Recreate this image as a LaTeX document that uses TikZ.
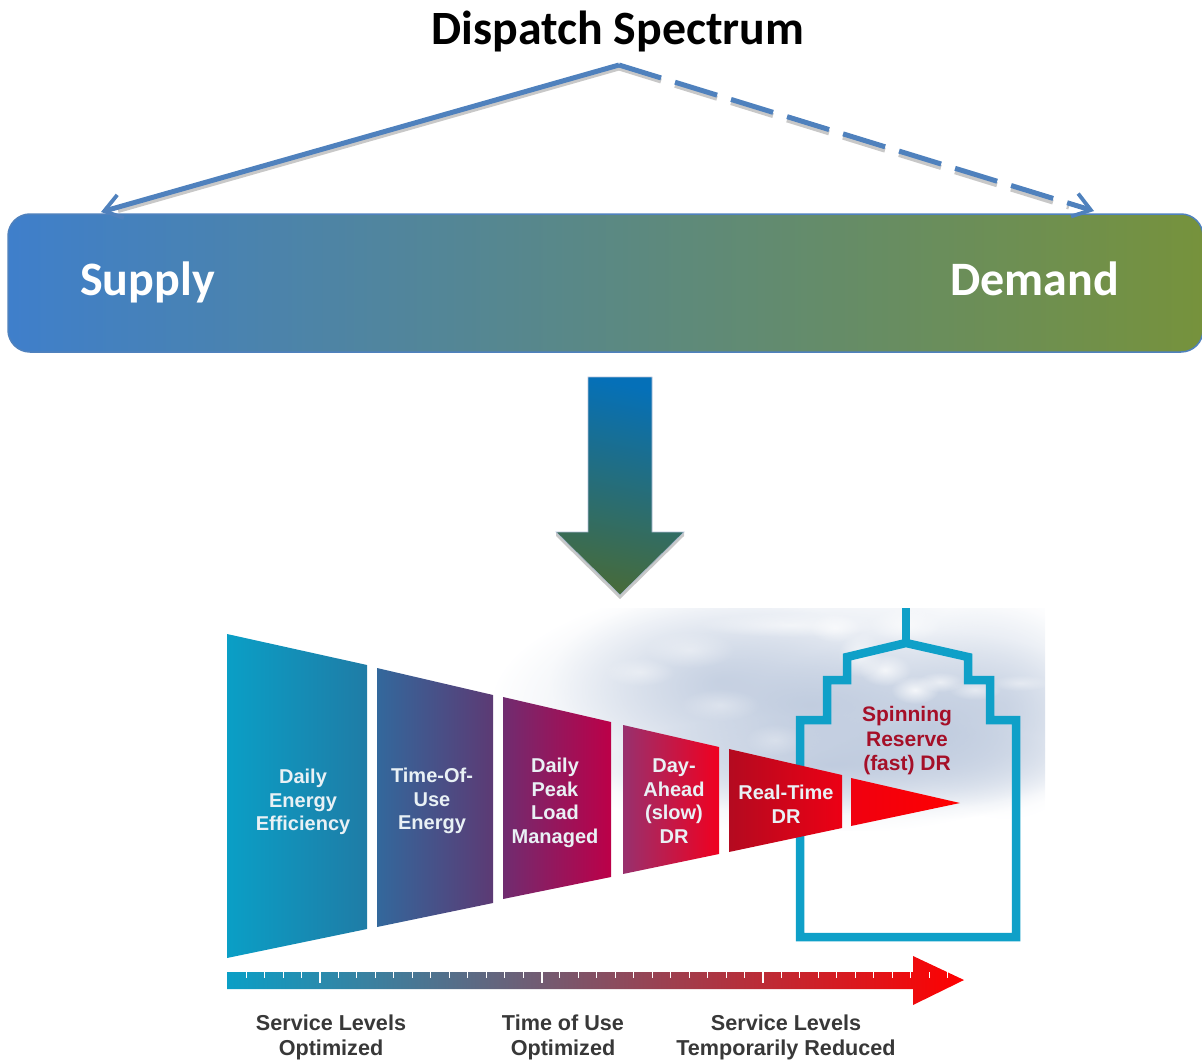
\documentclass[tikz,border=0pt]{standalone}
\usepackage{fontspec}
\setmainfont{Liberation Sans}
\newfontfamily\calfont{Carlito}
\usetikzlibrary{arrows.meta,fadings,shapes.geometric}
\definecolor{linkblue}{HTML}{4F81BD}
\definecolor{shadowgray}{HTML}{C8C8C8}
\definecolor{cloudc}{HTML}{AFBED6}
\definecolor{housec}{HTML}{0FA0C8}
\definecolor{labelw}{HTML}{E9F1F5}
\definecolor{redtxt}{HTML}{A50F28}
\definecolor{wa}{HTML}{0A9FC6}\definecolor{wb}{HTML}{1F7CA6}
\definecolor{wc}{HTML}{33689C}\definecolor{wd}{HTML}{5C3A74}
\definecolor{we}{HTML}{702C70}\definecolor{wf}{HTML}{BC0048}
\definecolor{wg}{HTML}{98306E}\definecolor{wh}{HTML}{F00020}
\definecolor{wi}{HTML}{B40A20}\definecolor{wj}{HTML}{EC0014}
\definecolor{wk}{HTML}{F00010}\definecolor{wl}{HTML}{FF0000}
\definecolor{barl}{HTML}{3F7FCB}\definecolor{barr}{HTML}{76923C}
\definecolor{downt}{HTML}{0570B8}\definecolor{downb}{HTML}{466B3C}
\definecolor{axm}{HTML}{7A4A6E}
\tikzfading[name=softc, inner color=transparent!0, outer color=transparent!100]
\tikzset{
  x=1pt,y=-1pt,
  headtxt/.style={font=\calfont\bfseries\fontsize{47.8}{54}\selectfont,text=black,inner sep=0pt,anchor=base},
  bartxt/.style={font=\calfont\bfseries\fontsize{48}{54}\selectfont,text=white,inner sep=0pt,anchor=base},
  wedgetxt/.style={font=\bfseries\fontsize{20}{23.7}\selectfont,text=labelw,align=center,inner sep=0pt},
  redlabel/.style={wedgetxt,font=\bfseries\fontsize{21}{24.5}\selectfont,text=redtxt},
  axistxt/.style={font=\bfseries\fontsize{21.6}{25}\selectfont,text=black!78,align=center,inner sep=0pt},
  link/.style={draw=linkblue,line width=5pt,-{Straight Barb[length=17pt,width=24pt,line width=3.8pt]}},
  linkshadow/.style={draw=shadowgray,line width=5pt},
  dashpat/.style={dash pattern=on 44pt off 14.6pt},
  puff/.style={fill=cloudc,path fading=softc},
  whitepuff/.style={fill=white,path fading=softc},
  wedge/.style={shading angle=90},
  housepen/.style={draw=housec,line width=8.5pt,line join=miter},
  spectrum/.style={shade,left color=barl,right color=barr,draw=linkblue,line width=1.5pt,rounded corners=22pt,minimum width=1195pt,minimum height=138pt,inner sep=0pt},
}
\begin{document}
\begin{tikzpicture}
\useasboundingbox (0,0) rectangle (1202,1062);
% clouds
\begin{scope}
\clip (470,608) rectangle (1045,830);
\fill[puff,opacity=.65] (810,705) ellipse [x radius=320,y radius=130];
\fill[puff,opacity=.6] (930,725) ellipse [x radius=190,y radius=95];
\fill[puff,opacity=.5] (720,680) ellipse [x radius=170,y radius=85];
\fill[puff,opacity=.6] (830,765) ellipse [x radius=250,y radius=50];
\fill[puff,opacity=.35] (1005,705) ellipse [x radius=100,y radius=115];
\foreach \cx/\cy/\rx/\ry/\o in {
  790/625/90/12/.55, 835/628/25/14/.6, 860/655/22/22/.7, 885/670/26/16/.75, 915/690/24/14/.8,
  940/682/24/10/.6, 975/690/26/10/.5, 1020/683/30/8/.4, 690/650/45/18/.4, 640/672/35/14/.4,
  720/705/40/16/.35, 775/740/30/16/.3, 905/625/35/16/.6}{
  \fill[whitepuff,opacity=\o] (\cx,\cy) ellipse [x radius=\rx,y radius=\ry];
}
\end{scope}
% house
\coordinate (stemtop) at (906,608);
\coordinate (apex2) at (906,643);
\draw[housepen] (apex2) -- (stemtop);
\draw[housepen] (apex2) -- (968,657) -- (968,680) -- (990,680) -- (990,720) -- (1016,720) -- (1016,937) -- (800,937) -- (800,720) -- (827,720) -- (827,680) -- (847,680) -- (847,657) -- cycle;
% wedges
\shade[wedge,left color=wa,right color=wb] (227,634) -- (367,665) -- (367,929) -- (227,958) -- cycle;
\shade[wedge,left color=wc,right color=wd] (377,668) -- (493,695) -- (493,903) -- (377,927) -- cycle;
\shade[wedge,left color=we,right color=wf] (503,697) -- (611,722) -- (611,877) -- (503,899) -- cycle;
\shade[wedge,left color=wg,right color=wh] (623,725) -- (719,747) -- (719,854) -- (623,874) -- cycle;
\shade[wedge,left color=wi,right color=wj] (729,749) -- (842,775) -- (842,828) -- (729,852) -- cycle;
\shade[wedge,left color=wk,right color=wl] (851,778) -- (960,803) -- (851,826) -- cycle;
% wedge labels
\node[wedgetxt] (w1) at (303,802) {Daily\\Energy\\Efficiency};
\node[wedgetxt] (w2) at (432,801) {Time-Of-\\Use\\Energy};
\node[wedgetxt] (w3) at (555,803) {Daily\\Peak\\Load\\Managed};
\node[wedgetxt] (w4) at (674,801) {Day-\\Ahead\\(slow)\\DR};
\node[wedgetxt] (w5) at (786,804) {Real-Time\\DR};
\node[redlabel] (w6) at (907,741) {Spinning\\Reserve\\(fast) DR};
% axis
\shade[left color=wa,middle color=axm,right color=wl] (227,972) -- (913,972) -- (913,956) -- (964,980) -- (913,1005) -- (913,989) -- (227,989) -- cycle;
\foreach \k in {-4,...,34}{
  \draw[white,line width=1pt] ({320+18.46*\k},972) -- ({320+18.46*\k},978);
}
\foreach \k in {0,12,24}{
  \draw[white,line width=2pt] ({320+18.46*\k},972) -- ({320+18.46*\k},983);
}
\node[axistxt] (a1) at (331,1037) {Service Levels\\Optimized};
\node[axistxt] (a2) at (563,1037) {Time of Use\\Optimized};
\node[axistxt] (a3) at (786,1037) {Service Levels\\Temporarily Reduced};
% spectrum bar
\node[spectrum] (bar) at (605.5,283) {};
\node[bartxt] (sup) at (147.5,295) {Supply};
\node[bartxt] (dem) at (1034.5,295) {Demand};
% title and links
\node[headtxt] (title) at (618,45) {Dispatch Spectrum};
\coordinate (apex) at (619,65);
\coordinate (apexs) at (619,68);
\coordinate (ltip) at (101,212);
\coordinate (rtip) at (1094,211);
\coordinate (ls) at (118,210.5);
\coordinate (rs) at (1069,207);
\draw[linkshadow] (apexs) -- (ls);
\draw[linkshadow,dashpat] (apexs) -- (rs);
\draw[link] (apex) -- (ltip);
\draw[link,dashpat] (apex) -- (rtip);
% down arrow
\fill[shadowgray] (556,536) -- (620,599) -- (684,536) -- (684,532) -- (556,532) -- cycle;
\shade[top color=downt,bottom color=downb,shading angle=-12,draw=cloudc,line width=.6pt] (588,377) -- (652,377) -- (652,532) -- (684,532) -- (620,595) -- (556,532) -- (588,532) -- cycle;
\end{tikzpicture}
\end{document}
